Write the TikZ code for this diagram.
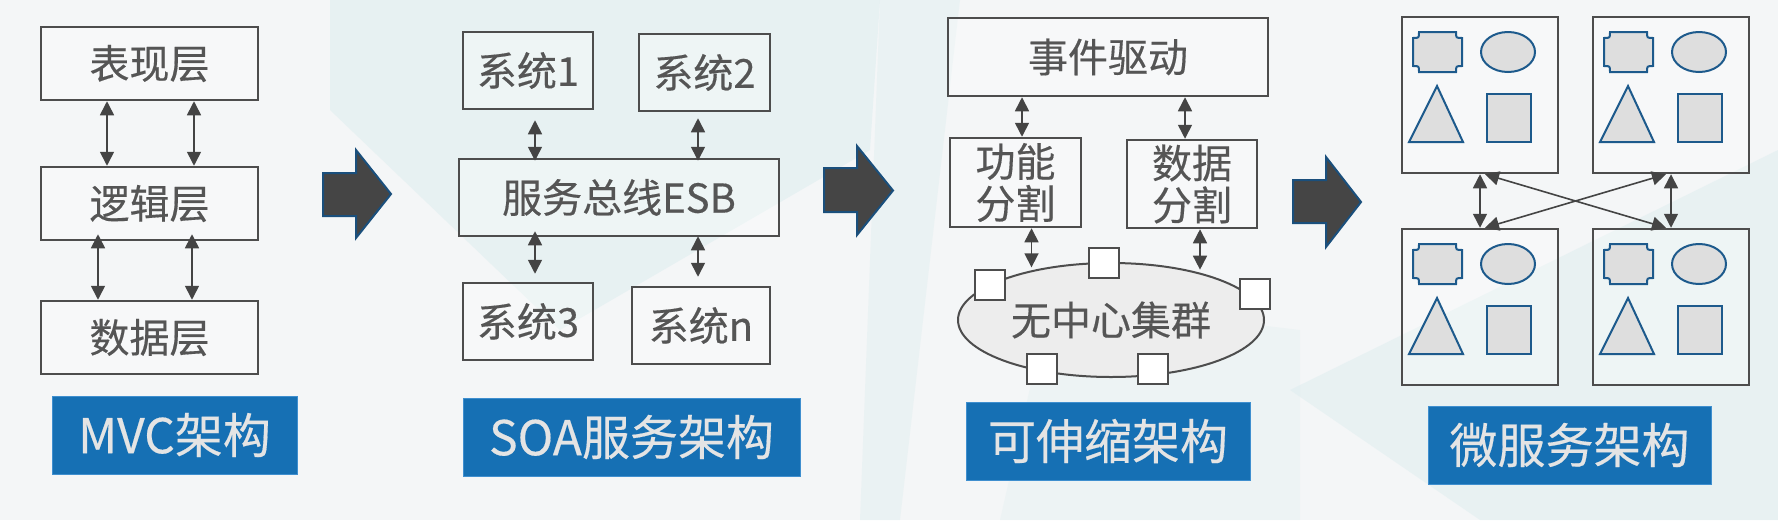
\documentclass[tikz,border=0pt]{standalone}
\usepackage{fontspec}
\setmainfont{Noto Sans CJK SC}[FakeBold=0.35]
\usetikzlibrary{arrows.meta,shapes.geometric}
\definecolor{bgc}{HTML}{F4F6F7}
\definecolor{teal1}{HTML}{DDEDEF}
\definecolor{boxline}{HTML}{4D4D4D}
\definecolor{txt}{HTML}{555555}
\definecolor{lblue}{HTML}{1670B4}
\definecolor{lbord}{HTML}{3F8FCF}
\definecolor{ltxt}{HTML}{E4E4E4}
\definecolor{arrc}{HTML}{444444}
\definecolor{bigarr}{HTML}{454545}
\definecolor{navy}{HTML}{1A4F7C}
\definecolor{shpline}{HTML}{1D5A8C}
\definecolor{shpfill}{HTML}{DEDEDE}
\tikzset{
  bx/.style={draw=boxline, line width=2.5pt, fill=white, fill opacity=0.3, text opacity=1,
    text=txt, inner sep=0pt, font=\fontsize{40}{42}\selectfont, align=center},
  lbl/.style={fill=lblue, draw=lbord, line width=0.8pt, text=ltxt, inner sep=0pt,
    minimum height=78pt, font=\fontsize{48}{50}\selectfont},
  dbl/.style={draw=arrc, line width=1.6pt, {Triangle[width=14pt,length=14pt]}-{Triangle[width=14pt,length=14pt]}},
  bigarrow/.style={fill=bigarr, draw=navy, line width=2pt, line join=miter},
  sq/.style={draw=boxline, line width=2pt, fill=white, minimum width=30pt, minimum height=30pt, inner sep=0pt},
  mbox/.style={draw=boxline, line width=2.5pt, fill=white, fill opacity=0.3, minimum width=156pt, minimum height=156pt, inner sep=0pt},
  shp/.style={draw=shpline, fill=shpfill, line width=2pt, line join=miter}
}
\begin{document}
\begin{tikzpicture}[x=1pt,y=-1pt]
\useasboundingbox (0,0) rectangle (1778,520);
% background
\fill[bgc] (0,0) rectangle (1778,520);
\fill[teal1, opacity=0.55] (330,0) -- (880,0) -- (870,150) -- (560,330) -- (330,110) -- cycle;
\fill[teal1, opacity=0.4] (880,0) -- (960,0) -- (900,520) -- (860,520) -- cycle;
\fill[teal1, opacity=0.5] (1290,390) -- (1778,150) -- (1778,520) -- (1480,520) -- cycle;
\fill[teal1, opacity=0.3] (1050,300) -- (1300,330) -- (1300,520) -- (1000,520) -- cycle;

% ===== MVC =====
\node[bx, minimum width=217pt, minimum height=73pt] (p) at (149.5,63.5) {表现层};
\node[bx, minimum width=217pt, minimum height=73pt] (l) at (149.5,203.5) {逻辑层};
\node[bx, minimum width=217pt, minimum height=73pt] (d) at (149.5,337.5) {数据层};
\draw[dbl] ([xshift=-42.5pt]p.south) -- ([xshift=-42.5pt]l.north);
\draw[dbl] ([xshift=44.5pt]p.south) -- ([xshift=44.5pt]l.north);
\draw[dbl] ([xshift=-51.5pt,yshift=7pt]l.south) -- ([xshift=-51.5pt]d.north);
\draw[dbl] ([xshift=42.5pt,yshift=7pt]l.south) -- ([xshift=42.5pt]d.north);
\node[lbl, minimum width=245pt] (mvc) at (174.5,435) {MVC架构};

\draw[bigarrow] (323,173) -- (356,173) -- (356,150) -- (391,194) -- (356,238) -- (356,216) -- (323,216) -- cycle;

% ===== SOA =====
\node[bx, minimum width=130pt, minimum height=77pt] (s1) at (528,70.5) {系统1};
\node[bx, minimum width=131pt, minimum height=77pt] (s2) at (704.5,72.5) {系统2};
\node[bx, minimum width=320pt, minimum height=77pt] (esb) at (619,197.5) {服务总线ESB};
\node[bx, minimum width=130pt, minimum height=77pt] (s3) at (528,321.5) {系统3};
\node[bx, minimum width=138pt, minimum height=77pt] (sn) at (701,325.5) {系统n};
\draw[dbl] ([xshift=7pt,yshift=-10pt]s1.south) -- ([xshift=7pt,yshift=-3pt]s1.south |- esb.north);
\draw[dbl] ([xshift=-6.5pt,yshift=-6pt]s2.south) -- ([xshift=-6.5pt,yshift=-3pt]s2.south |- esb.north);
\draw[dbl] ([xshift=7pt,yshift=6pt]s3.north |- esb.south) -- ([xshift=7pt,yshift=8pt]s3.north);
\draw[dbl] ([xshift=-3pt,yshift=1pt]sn.north |- esb.south) -- ([xshift=-3pt,yshift=9pt]sn.north);
\node[lbl, minimum width=337pt] (soa) at (631.5,437) {SOA服务架构};

\draw[bigarrow] (824,168) -- (857,168) -- (857,146) -- (893,190.5) -- (857,235) -- (857,212) -- (824,212) -- cycle;

% ===== Scalable =====
\node[bx, minimum width=320pt, minimum height=78pt] (ev) at (1108,57) {事件驱动};
\node[bx, minimum width=131pt, minimum height=89pt] (fn) at (1015.5,182.5) {功能\\分割};
\node[bx, minimum width=130pt, minimum height=88pt] (da) at (1192,184) {数据\\分割};
\node[ellipse, draw=boxline, line width=2pt, fill=white!93!black, minimum width=306pt, minimum height=114pt,
      inner sep=0pt, text=txt, font=\fontsize{40}{42}\selectfont] (ell) at (1111,320) {无中心集群};
\draw[dbl] ([xshift=6.5pt]ev.south -| fn.north) -- ([xshift=6.5pt]fn.north);
\draw[dbl] ([xshift=-7pt]ev.south -| da.north) -- ([xshift=-7pt]da.north);
\draw[dbl] (fn.south -| ell.148) -- ([yshift=3pt]ell.148);
\draw[dbl] (da.south -| ell.28.4) -- ([yshift=3pt]ell.28.4);
\node[sq] (q1) at (990,285) {};
\node[sq] (q2) at (1104,263) {};
\node[sq] (q3) at (1255,294) {};
\node[sq] (q4) at (1042,369) {};
\node[sq] (q5) at (1153,369) {};
\node[lbl, minimum width=284pt] (sc) at (1108,441) {可伸缩架构};

\draw[bigarrow] (1293,180) -- (1326,180) -- (1326,157) -- (1361,202) -- (1326,247) -- (1326,223) -- (1293,223) -- cycle;

% ===== Microservices =====
\foreach \bx/\by/\nm in {1402/17/tl, 1593/17/tr, 1402/229/bl, 1593/229/br}{
  \node[mbox] (\nm) at (\bx+78,\by+78) {};
  \begin{scope}[shift={(\bx,\by)}]
    \draw[shp] (17,15) -- (54,15) .. controls (54,21) .. (60,21) -- (60,49) .. controls (54,49) .. (54,55)
      -- (17,55) .. controls (17,49) .. (11,49) -- (11,21) .. controls (17,21) .. (17,15) -- cycle;
    \draw[shp] (106,35) ellipse [x radius=27, y radius=20];
    \draw[shp] (35,69) -- (61,125) -- (7,125) -- cycle;
    \draw[shp] (85,77) rectangle (129,125);
  \end{scope}
}
\draw[dbl] (tl.south) -- (bl.north);
\draw[dbl] (tr.south) -- (br.north);
\draw[dbl] ([xshift=5pt]tl.south) -- ([xshift=-5pt]br.north);
\draw[dbl] ([xshift=-5pt]tr.south) -- ([xshift=5pt]bl.north);
\node[lbl, minimum width=283pt] (ms) at (1569.5,445) {微服务架构};
\end{tikzpicture}
\end{document}
